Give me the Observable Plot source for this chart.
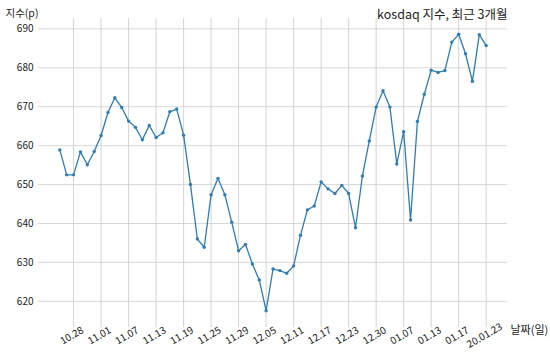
<!DOCTYPE html>
<html>
<head>
<meta charset="utf-8">
<script src="https://cdn.jsdelivr.net/npm/d3@7"></script>
<script src="https://cdn.jsdelivr.net/npm/@observablehq/plot@0.6"></script>
<style>
  html, body { margin: 0; padding: 0; background: #fff; }
  #chart svg { display: block; }
</style>
</head>
<body>
<div id="chart"></div>
<script>
const dates = ["10.24","10.25","10.28","10.29","10.30","10.31","11.01","11.04","11.05","11.06","11.07","11.08","11.11","11.12","11.13","11.14","11.15","11.18","11.19","11.20","11.21","11.22","11.25","11.26","11.27","11.28","11.29","12.02","12.03","12.04","12.05","12.06","12.09","12.10","12.11","12.12","12.13","12.16","12.17","12.18","12.19","12.20","12.23","12.24","12.26","12.27","12.30","01.02","01.03","01.06","01.07","01.08","01.09","01.10","01.13","01.14","01.15","01.16","01.17","01.20","01.21","01.22","20.01.23"];
const values = [658.9,652.5,652.5,658.4,655.1,658.5,662.6,668.5,672.3,669.8,666.3,664.7,661.5,665.2,662.1,663.3,668.7,669.4,662.7,650.0,636.0,633.9,647.4,651.6,647.4,640.3,633.0,634.6,629.6,625.5,617.6,628.3,627.9,627.2,629.1,637.0,643.5,644.5,650.7,648.9,647.7,649.8,647.7,638.9,652.2,661.2,669.9,674.1,669.9,655.3,663.6,640.9,666.2,673.2,679.4,678.8,679.3,686.6,688.6,683.6,676.5,688.5,685.7];
const xTickIndex = [2,6,10,14,18,22,26,30,34,38,42,46,50,54,58,62];
const yTicks = [620,630,640,650,660,670,680,690];
const title = "kosdaq 지수, 최근 3개월";
const yLabel = "지수(p)";
const xLabel = "날짜(일)";

const data = values.map((v, i) => ({i, v, d: dates[i]}));
const xTicks = xTickIndex.map(i => ({i, d: dates[i]}));

const font = "'Noto Sans CJK KR', 'Noto Sans', sans-serif";
const lineColor = "#2f7db3";
const yDomain = [614.05, 692.15];

const chart = Plot.plot({
  width: 550,
  height: 359,
  marginLeft: 38,
  marginRight: 43,
  marginTop: 20,
  marginBottom: 35,
  style: {fontFamily: font, fontSize: "10px", color: "#222", background: "#fff"},
  x: {type: "linear", domain: [-3.1, 65.1], axis: null},
  y: {type: "linear", domain: yDomain, axis: null},
  marks: [
    Plot.gridY(yTicks, {stroke: "#d4d4d4", strokeOpacity: 1, strokeWidth: 0.9}),
    Plot.ruleX(xTicks, {x: "i", y1: () => 613.2, y2: () => yDomain[1] + 0.5, stroke: "#cfcfcf", strokeWidth: 0.9}),
    Plot.text(yTicks, {x: () => -3.1, y: d => d, text: d => String(d), textAnchor: "end", dx: -5, fontSize: 10, fill: "#222"}),
    Plot.text(xTicks, {x: "i", text: "d", frameAnchor: "bottom", dy: 14, rotate: -30, textAnchor: "middle", fontSize: 10, fill: "#222"}),
    Plot.line(data, {x: "i", y: "v", stroke: lineColor, strokeWidth: 1.3}),
    Plot.dot(data, {x: "i", y: "v", r: 1.7, fill: lineColor, stroke: "none"}),
    Plot.text([title], {text: d => d, frameAnchor: "top-right", dy: -10, textAnchor: "end", fontSize: 12.5, fill: "#222"}),
    Plot.text([yLabel], {text: d => d, frameAnchor: "top-left", dx: -33, dy: -11, textAnchor: "start", fontSize: 10.5, fill: "#222"}),
    Plot.text([xLabel], {text: d => d, frameAnchor: "bottom-right", dx: 3, dy: 9, textAnchor: "start", fontSize: 11, fill: "#222"})
  ]
});
document.getElementById("chart").append(chart);
</script>
</body>
</html>
